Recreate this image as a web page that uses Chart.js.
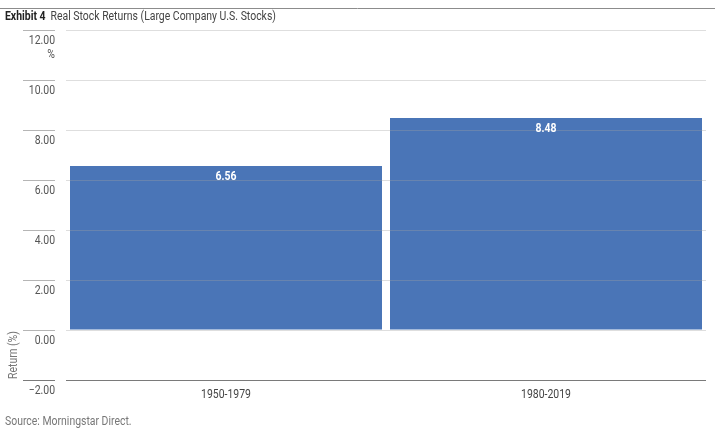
<!DOCTYPE html>
<html>
<head>
<meta charset="utf-8">
<script src="https://cdn.jsdelivr.net/npm/chart.js@4/dist/chart.umd.min.js"></script>
<style>
  html, body { margin: 0; padding: 0; background: #fff; }
  #wrap { position: relative; width: 715px; height: 435px; }
</style>
</head>
<body>
<div id="wrap"><canvas id="returnsChart" width="715" height="435"></canvas></div>
<script>
const FONT = "'Roboto', sans-serif";
const SQUEEZE = 0.87;

const periods = ['1950-1979', '1980-2019'];
const realReturns = [6.56, 8.48];
const yTicks = [12, 10, 8, 6, 4, 2, 0, -2];

const TITLE_BOLD = 'Exhibit 4';
const TITLE_TEXT = 'Real Stock Returns (Large Company U.S. Stocks)';
const SOURCE_TEXT = 'Source: Morningstar Direct.';
const AXIS_TITLE = 'Return (%)';

const fmt = (v) => (v < 0 ? '\u2212' : '') + Math.abs(v).toFixed(2);

// condensed-looking text: squeeze horizontally around the anchor
function text(ctx, str, x, y, align, font, color) {
  ctx.save();
  ctx.font = font;
  ctx.fillStyle = color;
  ctx.textAlign = align;
  ctx.textBaseline = 'middle';
  ctx.translate(x, y);
  ctx.scale(SQUEEZE, 1);
  ctx.fillText(str, 0, 0);
  const w = ctx.measureText(str).width * SQUEEZE;
  ctx.restore();
  return w;
}

const decorations = {
  id: 'decorations',
  afterDraw(chart) {
    const ctx = chart.ctx;
    const y = chart.scales.y;
    const x = chart.scales.x;
    ctx.save();

    // top rule + title
    ctx.strokeStyle = '#8c8c8c';
    ctx.lineWidth = 1;
    ctx.beginPath();
    ctx.moveTo(0, 8.5);
    ctx.lineTo(715, 8.5);
    ctx.stroke();

    const w = text(ctx, TITLE_BOLD, 5, 17, 'left', 'bold 12px ' + FONT, '#222');
    text(ctx, TITLE_TEXT, 5 + w + 5, 17, 'left', '12px ' + FONT, '#444');

    // left ticks + labels
    yTicks.forEach(v => {
      const py = Math.round(y.getPixelForValue(v)) + 0.5;
      ctx.strokeStyle = v === -2 ? '#7a7a7a' : '#b5b5b5';
      ctx.beginPath();
      ctx.moveTo(23, py);
      ctx.lineTo(55, py);
      ctx.stroke();
      text(ctx, fmt(v), 55, py + 10, 'right', '12px ' + FONT, '#555');
    });
    text(ctx, '%', 55, y.getPixelForValue(12) + 25, 'right', '12px ' + FONT, '#555');

    // rotated axis title
    ctx.save();
    ctx.translate(14, y.getPixelForValue(-2) - 1);
    ctx.rotate(-Math.PI / 2);
    ctx.font = '12px ' + FONT;
    ctx.fillStyle = '#777';
    ctx.textAlign = 'left';
    ctx.textBaseline = 'middle';
    ctx.scale(SQUEEZE, 1);
    ctx.fillText(AXIS_TITLE, 0, 0);
    ctx.restore();

    // category labels
    periods.forEach((p, i) => {
      text(ctx, p, x.getPixelForValue(i), y.getPixelForValue(-2) + 15, 'center', '12px ' + FONT, '#444');
    });

    // value labels
    chart.getDatasetMeta(0).data.forEach((bar, i) => {
      text(ctx, realReturns[i].toFixed(2), bar.x, bar.y + 11, 'center', 'bold 12px ' + FONT, '#fff');
    });

    // source
    text(ctx, SOURCE_TEXT, 5, 422, 'left', '12px ' + FONT, '#777');
    ctx.restore();
  }
};

const config = {
  type: 'bar',
  data: {
    labels: periods,
    datasets: [{
      data: realReturns,
      backgroundColor: 'rgba(63, 108, 178, 0.94)',
      borderWidth: 0,
      categoryPercentage: 1,
      barPercentage: 0.975
    }]
  },
  options: {
    responsive: false,
    animation: false,
    events: [],
    layout: { padding: { left: 66, right: 9, top: 30, bottom: 47 } },
    plugins: { legend: { display: false }, tooltip: { enabled: false } },
    scales: {
      x: {
        grid: { display: false },
        border: { display: false },
        ticks: { display: false }
      },
      y: {
        min: -2,
        max: 12,
        ticks: { display: false, stepSize: 2 },
        border: { display: false },
        grid: {
          z: 1,
          drawTicks: false,
          color: (c) => c.tick.value === -2 ? '#7a7a7a' : 'rgba(160,160,160,0.35)'
        }
      }
    }
  },
  plugins: [decorations]
};

window.onload = () => {
  new Chart(document.getElementById('returnsChart'), config);
};
</script>
</body>
</html>
